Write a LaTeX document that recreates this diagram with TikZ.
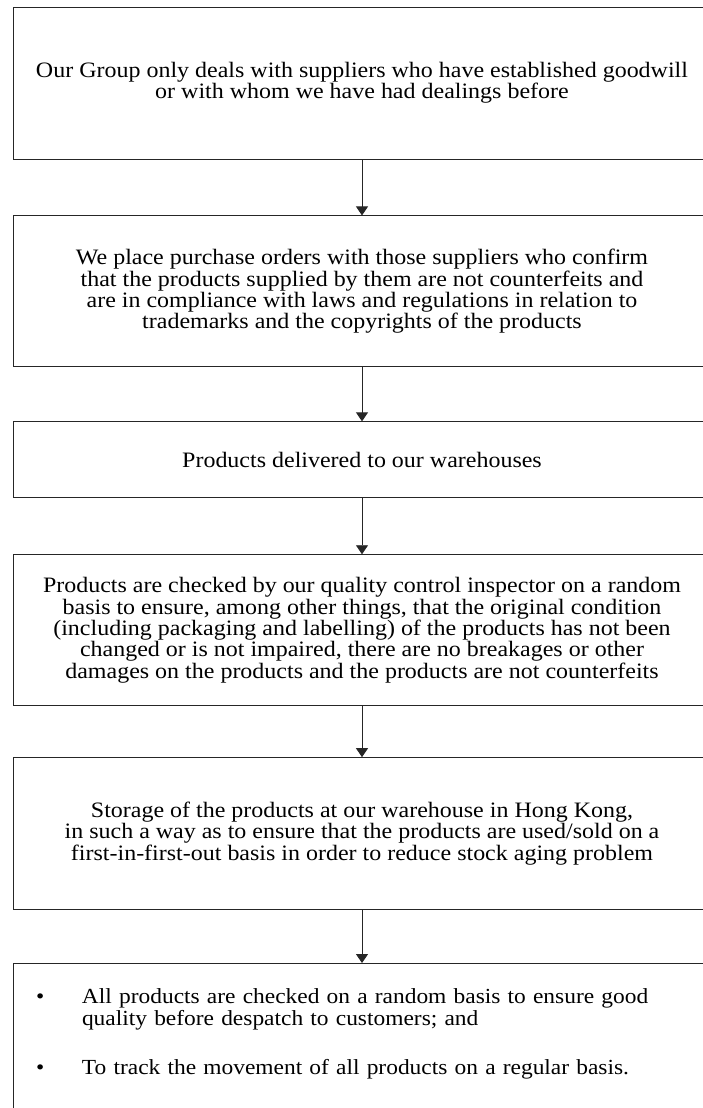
\documentclass[tikz,border=0pt]{standalone}
\usepackage{fontspec}
\setmainfont{Liberation Serif}[FakeStretch=1.09]
\usetikzlibrary{positioning,arrows.meta}

\begin{document}
\begin{tikzpicture}[x=1pt, y=1pt,
    stage/.style={draw=black!85, line width=0.9pt, minimum width=698pt, inner sep=0pt, align=center, font=\fontsize{22}{21.3}\selectfont},
    flow/.style={draw=black!85, line width=0.9pt, -{Triangle[width=12pt,length=9pt]}}]
    \useasboundingbox (0,0) rectangle (703,-1108);
    \clip (0,0) rectangle (703,-1108);

    \node [stage] at (362,-83)       [minimum height=152pt] (suppliers) {Our Group only deals with suppliers who have established goodwill\\or with whom we have had dealings before};
    \node [stage] [below=56pt of suppliers] [minimum height=151pt] (orders)    {We place purchase orders with those suppliers who confirm\\that the products supplied by them are not counterfeits and\\are in compliance with laws and regulations in relation to\\trademarks and the copyrights of the products};
    \node [stage] [below=54pt of orders]    [minimum height=76pt]  (delivery)  {Products delivered to our warehouses};
    \node [stage] [below=56pt of delivery]  [minimum height=151pt] (checking)  {Products are checked by our quality control inspector on a random\\basis to ensure, among other things, that the original condition\\(including packaging and labelling) of the products has not been\\changed or is not impaired, there are no breakages or other\\damages on the products and the products are not counterfeits};
    \node [stage] [below=51pt of checking]  [minimum height=152pt] (storage)   {Storage of the products at our warehouse in Hong Kong,\\in such a way as to ensure that the products are used/sold on a\\first-in-first-out basis in order to reduce stock aging problem};
    \node [stage] [below=53pt of storage]   [align=left] [text width=652pt] [inner xsep=23pt] [inner ysep=25pt] [text height=15pt] [text depth=170pt] [font=\fontsize{21.5}{21.3}\selectfont] (despatch)
        {\begin{tabular}[t]{@{}p{46pt}@{}l@{}}
            \textbullet & All products are checked on a random basis to ensure good\\
                        & quality before despatch to customers; and\\[28pt]
            \textbullet & To track the movement of all products on a regular basis.
         \end{tabular}};

    \draw [flow] (suppliers) -- (orders);
    \draw [flow] (orders)    -- (delivery);
    \draw [flow] (delivery)  -- (checking);
    \draw [flow] (checking)  -- (storage);
    \draw [flow] (storage)   -- (despatch);
\end{tikzpicture}
\end{document}
